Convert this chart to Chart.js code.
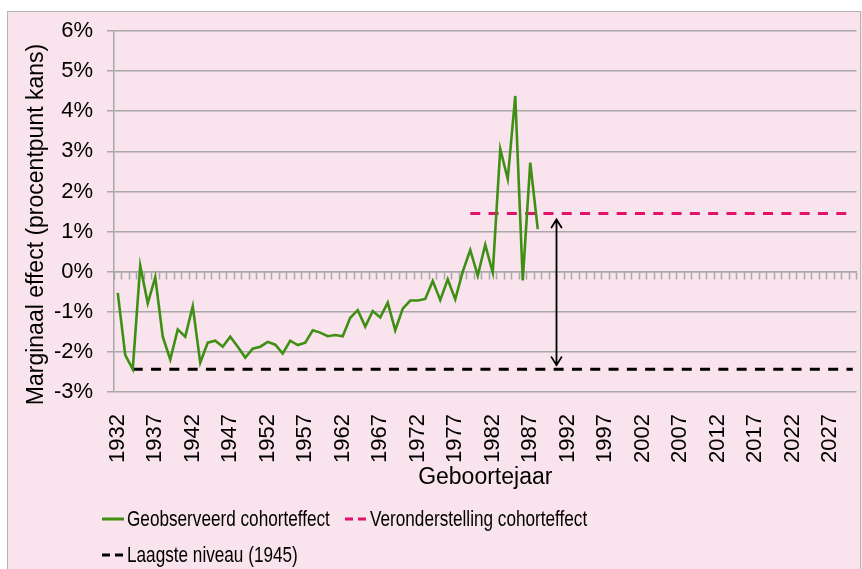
<!DOCTYPE html>
<html><head><meta charset="utf-8">
<script src="https://cdn.jsdelivr.net/npm/chart.js@4"></script>
<style>html,body{margin:0;padding:0;background:#fff}#wrap{width:862px;height:569px;position:relative}</style>
</head><body><div id="wrap"><canvas id="c" width="862" height="569"></canvas></div>
<script>
// ---- data ----
const years = [1932,1933,1934,1935,1936,1937,1938,1939,1940,1941,1942,1943,1944,1945,1946,1947,1948,1949,1950,1951,
1952,1953,1954,1955,1956,1957,1958,1959,1960,1961,1962,1963,1964,1965,1966,1967,1968,1969,1970,1971,
1972,1973,1974,1975,1976,1977,1978,1979,1980,1981,1982,1983,1984,1985,1986,1987,1988,1989,1990,1991,
1992,1993,1994,1995,1996,1997,1998,1999,2000,2001,2002,2003,2004,2005,2006,2007,2008,2009,2010,2011,
2012,2013,2014,2015,2016,2017,2018,2019,2020,2021,2022,2023,2024,2025,2026,2027,2028,2029,2030];
const tickLabels = ['1932','1937','1942','1947','1952','1957','1962','1967','1972','1977','1982','1987',
'1992','1997','2002','2007','2012','2017','2022','2027'];
const yTicks = [-3,-2,-1,0,1,2,3,4,5,6];
// observed cohort effect, 1932..1988 (percentage points)
const observed = [-0.53,-2.08,-2.43,0.15,-0.79,-0.14,-1.62,-2.19,-1.44,-1.62,
-0.86,-2.27,-1.77,-1.72,-1.87,-1.62,-1.87,-2.14,-1.92,-1.87,
-1.75,-1.82,-2.04,-1.72,-1.83,-1.77,-1.46,-1.52,-1.61,-1.58,
-1.61,-1.15,-0.96,-1.37,-0.98,-1.14,-0.77,-1.46,-0.92,-0.72,
-0.72,-0.68,-0.23,-0.71,-0.19,-0.69,0.00,0.54,-0.10,0.67,
-0.02,3.06,2.31,4.38,-0.22,2.72,1.06];
const assumptionLevel = 1.45;   // Veronderstelling cohorteffect
const assumptionFrom = 1979;
const lowestLevel = -2.43;      // Laagste niveau
const lowestFrom = 1934;
const arrowYear = 1990.5;       // double arrow between the two levels
const seriesNames = ['Geobserveerd cohorteffect','Veronderstelling cohorteffect','Laagste niveau (1945)'];
const seriesColors = ['#3E8F14','#E0126A','#000000'];
const yTitle = 'Marginaal effect (procentpunt kans)';
const xTitle = 'Geboortejaar';

// ---- build ----
const FONT = "'Liberation Sans', Arial, sans-serif";
Chart.defaults.font.family = FONT;
Chart.defaults.color = '#000';
const labels = years.map(String);
const obsData = years.map((y,i)=> i < observed.length ? observed[i] : null);
const assData = years.map(y=> y >= assumptionFrom ? assumptionLevel : null);
const lowData = years.map(y=> y >= lowestFrom ? lowestLevel : null);
const GRID = '#A8A8A8';

const bgPlugin = { id:'bg', beforeDraw(chart){
  const ctx = chart.ctx; ctx.save();
  ctx.fillStyle = '#fff'; ctx.fillRect(0,0,chart.width,chart.height);
  ctx.fillStyle = '#F9E3EC'; ctx.fillRect(7,11,855,560);
  ctx.strokeStyle = '#B4B4B4'; ctx.lineWidth = 1; ctx.strokeRect(7.5,11.5,853,580);
  ctx.restore();
}};

const yTitlePlugin = { id:'yTitle', afterDraw(chart){
  const ctx = chart.ctx, a = chart.chartArea; ctx.save();
  ctx.translate(37, (a.top + a.bottom)/2 + 13); ctx.rotate(-Math.PI/2);
  ctx.fillStyle = '#000'; ctx.font = '23px ' + FONT; ctx.textAlign='center'; ctx.textBaseline='middle';
  ctx.fillText(yTitle, 0, 0); ctx.restore();
}};

const arrowPlugin = { id:'arrow', afterDatasetsDraw(chart){
  const xs = chart.scales.x, ys = chart.scales.y, ctx = chart.ctx;
  const x = xs.getPixelForValue(years.indexOf(Math.floor(arrowYear)) + (arrowYear - Math.floor(arrowYear)));
  const yTop = ys.getPixelForValue(assumptionLevel) + 6;
  const yBot = ys.getPixelForValue(lowestLevel) - 4;
  ctx.save(); ctx.strokeStyle = '#000'; ctx.lineWidth = 1.8; ctx.lineCap='round';
  ctx.beginPath(); ctx.moveTo(x,yTop); ctx.lineTo(x,yBot);
  ctx.moveTo(x-5,yTop+8); ctx.lineTo(x,yTop); ctx.lineTo(x+5,yTop+8);
  ctx.moveTo(x-5,yBot-8); ctx.lineTo(x,yBot); ctx.lineTo(x+5,yBot-8);
  ctx.stroke(); ctx.restore();
}};

const legendPlugin = { id:'customLegend', afterDraw(chart){
  const ctx = chart.ctx; ctx.save();
  const items = [
    {x:102, y:519, name:seriesNames[0], color:seriesColors[0], dash:[]},
    {x:345, y:519, name:seriesNames[1], color:seriesColors[1], dash:[8,5]},
    {x:102, y:555, name:seriesNames[2], color:seriesColors[2], dash:[8,5]}
  ];
  items.forEach(it=>{
    ctx.strokeStyle = it.color; ctx.lineWidth = 3; ctx.lineCap='butt';
    ctx.setLineDash(it.dash);
    ctx.beginPath(); ctx.moveTo(it.x, it.y); ctx.lineTo(it.x+22, it.y); ctx.stroke();
    ctx.setLineDash([]);
    ctx.save(); ctx.translate(it.x+25, it.y); ctx.scale(0.78,1);
    ctx.fillStyle = '#000'; ctx.font = '22px ' + FONT; ctx.textBaseline='middle';
    ctx.fillText(it.name, 0, 1); ctx.restore();
  });
  ctx.restore();
}};

new Chart(document.getElementById('c'), {
  type:'line',
  data:{ labels, datasets:[
    {label:seriesNames[0], data:obsData, borderColor:seriesColors[0], borderWidth:2.6, pointRadius:0, tension:0, spanGaps:false},
    {label:seriesNames[1], data:assData, borderColor:seriesColors[1], borderWidth:3, borderDash:[10,8.3], borderCapStyle:'butt', pointRadius:0},
    {label:seriesNames[2], data:lowData, borderColor:seriesColors[2], borderWidth:3, borderDash:[10,8.3], borderCapStyle:'butt', pointRadius:0}
  ]},
  options:{
    responsive:false, animation:false, devicePixelRatio:1,
    layout:{ padding:{ left:0, top:31, right:5.5, bottom:74 } },
    plugins:{ legend:{display:false}, tooltip:{enabled:false} },
    scales:{
      x:{ type:'category', offset:true,
        grid:{display:false}, border:{display:false},
        ticks:{ autoSkip:false, maxRotation:90, minRotation:90, padding:14, color:'#000', font:{size:22},
          callback:(v,i)=> tickLabels.includes(labels[i]) ? labels[i] : '' },
        title:{ display:true, text:xTitle, color:'#000', font:{size:23}, padding:{top:0,bottom:4} },
        afterFit:(s)=>{ s.height = 103; s.paddingLeft = 0; s.paddingRight = 0; } },
      x2:{ type:'category', position:{y:0}, offset:true,
        grid:{ display:true, color:'rgba(0,0,0,0)', tickColor:GRID, tickLength:7, tickWidth:1.5, offset:true },
        border:{ display:true, color:GRID, width:1.5 },
        ticks:{ display:false, autoSkip:false },
        afterFit:(s)=>{ s.paddingLeft = 0; s.paddingRight = 0; } },
      y:{ min:-3, max:6,
        afterBuildTicks:(s)=>{ s.ticks = yTicks.map(v=>({value:v})); },
        ticks:{ callback:(v)=> v + '%', padding:14, color:'#000', font:{size:22} },
        grid:{ color:GRID, lineWidth:1.5, tickLength:7 },
        border:{ color:GRID, width:1.5 },
        title:{ display:false },
        afterFit:(s)=>{ s.width = 114; } }
    }
  },
  plugins:[bgPlugin, arrowPlugin, legendPlugin, yTitlePlugin]
});
</script></body></html>
